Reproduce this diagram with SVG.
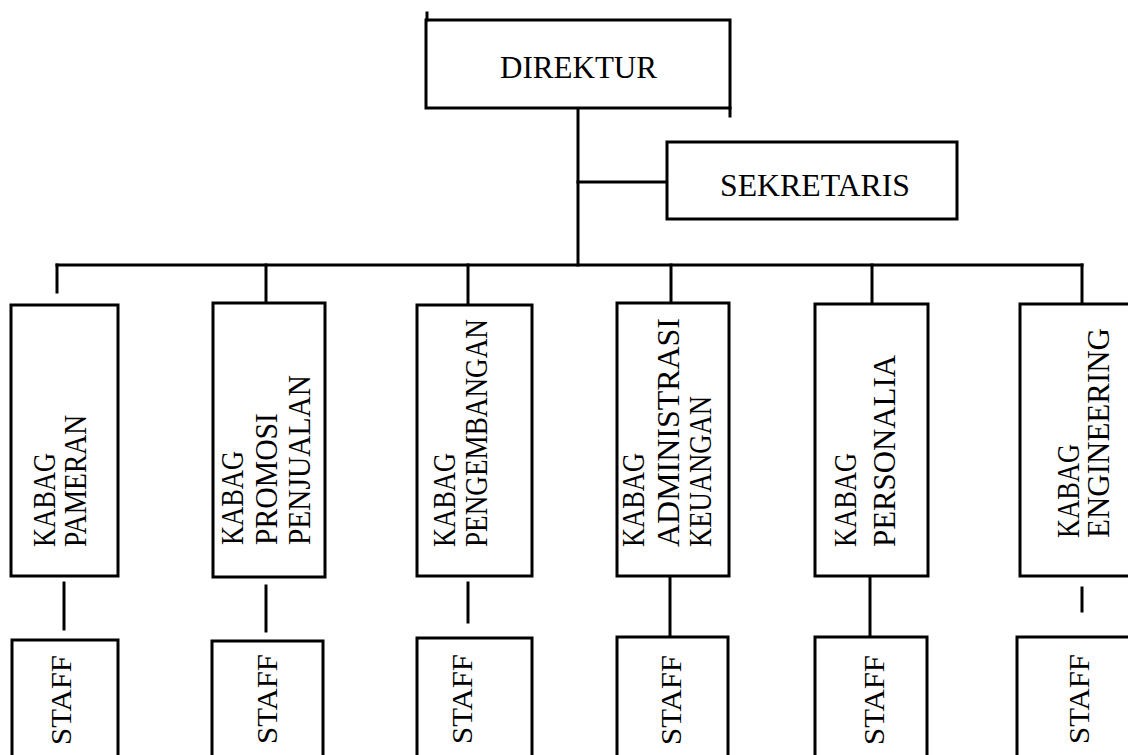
<svg xmlns="http://www.w3.org/2000/svg" width="1128" height="755" viewBox="0 0 1128 755">
<style>
.box{fill:#fff;stroke:#000;stroke-width:3}
.ln{stroke:#000;stroke-width:3;fill:none;stroke-linecap:square}
.t{font-family:"Liberation Serif","Times New Roman",serif;font-size:31px;fill:#000}
.s{font-family:"Liberation Serif","Times New Roman",serif;font-size:29px;fill:#000}
</style>
<rect width="1128" height="755" fill="#fff"/>
<g id="connectors">
<line class="ln" x1="578" y1="108" x2="578" y2="265"/>
<line class="ln" x1="578" y1="182" x2="667" y2="182"/>
<line class="ln" x1="57" y1="265" x2="1082" y2="265"/>
<line class="ln" x1="57" y1="265" x2="57" y2="292"/>
<line class="ln" x1="266" y1="265" x2="266" y2="303"/>
<line class="ln" x1="468" y1="265" x2="468" y2="305"/>
<line class="ln" x1="671" y1="265" x2="671" y2="303"/>
<line class="ln" x1="872" y1="265" x2="872" y2="304"/>
<line class="ln" x1="1082" y1="265" x2="1082" y2="304"/>
<line class="ln" x1="64" y1="583" x2="64" y2="629"/>
<line class="ln" x1="266" y1="586" x2="266" y2="631"/>
<line class="ln" x1="468" y1="583" x2="468" y2="622"/>
<line class="ln" x1="670" y1="576" x2="670" y2="637"/>
<line class="ln" x1="870" y1="576" x2="870" y2="637"/>
<line class="ln" x1="1082" y1="588" x2="1082" y2="611"/>
</g>
<g id="direktur">
<rect class="box" x="426" y="20" width="304" height="88"/>
<line class="ln" x1="427" y1="13" x2="427" y2="20"/>
<line class="ln" x1="730" y1="108" x2="730" y2="116"/>
<text class="t" x="500" y="78" textLength="157" lengthAdjust="spacingAndGlyphs">DIREKTUR</text>
</g>
<g id="sekretaris">
<rect class="box" x="667" y="142" width="290" height="77"/>
<text class="t" x="720" y="196" textLength="190" lengthAdjust="spacingAndGlyphs">SEKRETARIS</text>
</g>
<g id="kabag-pameran">
<rect class="box" x="11" y="305" width="107" height="271"/>
<text class="t" transform="translate(54.5,547) rotate(-90)" textLength="94" lengthAdjust="spacingAndGlyphs">KABAG</text>
<text class="t" transform="translate(85.5,547) rotate(-90)" textLength="132" lengthAdjust="spacingAndGlyphs">PAMERAN</text>
</g>
<g id="kabag-promosi">
<rect class="box" x="213" y="303" width="112" height="274"/>
<text class="t" transform="translate(242.5,545) rotate(-90)" textLength="94" lengthAdjust="spacingAndGlyphs">KABAG</text>
<text class="t" transform="translate(276.5,545) rotate(-90)" textLength="132" lengthAdjust="spacingAndGlyphs">PROMOSI</text>
<text class="t" transform="translate(309.5,545) rotate(-90)" textLength="170" lengthAdjust="spacingAndGlyphs">PENJUALAN</text>
</g>
<g id="kabag-pengembangan">
<rect class="box" x="417" y="305" width="115" height="271"/>
<text class="t" transform="translate(454.5,547) rotate(-90)" textLength="94" lengthAdjust="spacingAndGlyphs">KABAG</text>
<text class="t" transform="translate(486.5,547) rotate(-90)" textLength="228" lengthAdjust="spacingAndGlyphs">PENGEMBANGAN</text>
</g>
<g id="kabag-administrasi">
<rect class="box" x="617" y="303" width="112" height="273"/>
<text class="t" transform="translate(643.5,547) rotate(-90)" textLength="94" lengthAdjust="spacingAndGlyphs">KABAG</text>
<text class="t" transform="translate(678.5,547) rotate(-90)" textLength="229" lengthAdjust="spacingAndGlyphs">ADMINISTRASI</text>
<text class="t" transform="translate(710.5,547) rotate(-90)" textLength="151" lengthAdjust="spacingAndGlyphs">KEUANGAN</text>
</g>
<g id="kabag-personalia">
<rect class="box" x="815" y="304" width="113" height="272"/>
<text class="t" transform="translate(855.5,547) rotate(-90)" textLength="94" lengthAdjust="spacingAndGlyphs">KABAG</text>
<text class="t" transform="translate(894.5,547) rotate(-90)" textLength="192" lengthAdjust="spacingAndGlyphs">PERSONALIA</text>
</g>
<g id="kabag-engineering">
<rect class="box" x="1020" y="304" width="120" height="272"/>
<text class="t" transform="translate(1078.5,538) rotate(-90)" textLength="94" lengthAdjust="spacingAndGlyphs">KABAG</text>
<text class="t" transform="translate(1108.5,538) rotate(-90)" textLength="210" lengthAdjust="spacingAndGlyphs">ENGINEERING</text>
</g>
<g id="staff-1">
<rect class="box" x="12" y="640" width="106" height="130"/>
<text class="s" transform="translate(71,745) rotate(-90)" textLength="90" lengthAdjust="spacingAndGlyphs">STAFF</text>
</g>
<g id="staff-2">
<rect class="box" x="212" y="641" width="111" height="130"/>
<text class="s" transform="translate(277,744) rotate(-90)" textLength="90" lengthAdjust="spacingAndGlyphs">STAFF</text>
</g>
<g id="staff-3">
<rect class="box" x="417" y="638" width="115" height="130"/>
<text class="s" transform="translate(472,744) rotate(-90)" textLength="90" lengthAdjust="spacingAndGlyphs">STAFF</text>
</g>
<g id="staff-4">
<rect class="box" x="617" y="637" width="111" height="130"/>
<text class="s" transform="translate(681,745) rotate(-90)" textLength="90" lengthAdjust="spacingAndGlyphs">STAFF</text>
</g>
<g id="staff-5">
<rect class="box" x="815" y="637" width="112" height="130"/>
<text class="s" transform="translate(884,745) rotate(-90)" textLength="90" lengthAdjust="spacingAndGlyphs">STAFF</text>
</g>
<g id="staff-6">
<rect class="box" x="1017" y="637" width="123" height="130"/>
<text class="s" transform="translate(1089,744) rotate(-90)" textLength="90" lengthAdjust="spacingAndGlyphs">STAFF</text>
</g>
</svg>
